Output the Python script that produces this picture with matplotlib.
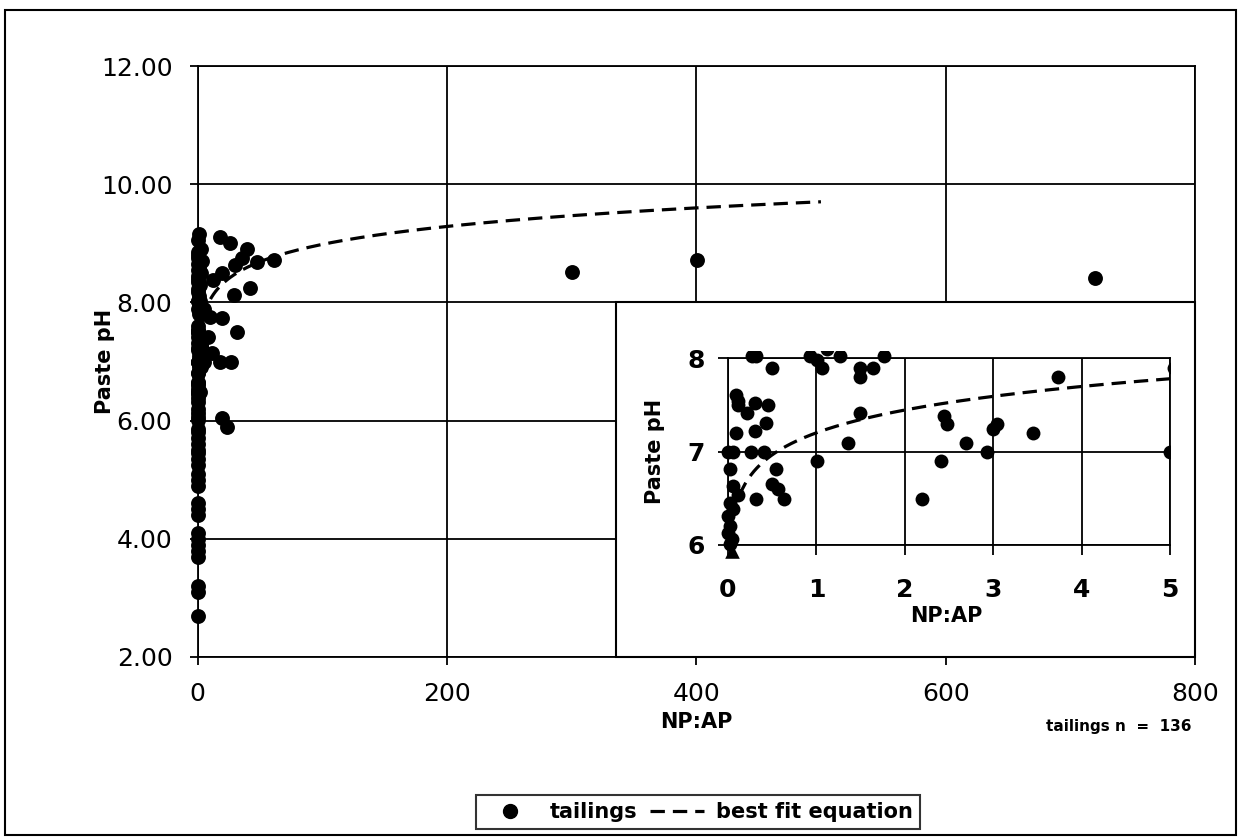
import numpy as np
import matplotlib
matplotlib.use("Agg")
import matplotlib.pyplot as plt
from matplotlib.patches import Rectangle
from matplotlib.lines import Line2D

plt.rcParams['font.family'] = ['DejaVu Sans']

# ---------------- data ----------------
# samples with NP:AP <= 5 (visible in the inset, and as the column at 0 in the main plot)
near_x = [0.27, 0.32, 0.50, 0.93, 1.01, 1.06, 1.27, 1.49, 1.49, 1.64, 1.77, 3.73, 5.04,
          0.09, 0.11, 0.11, 0.22, 0.30, 0.45, 0.43, 0.09, 0.30, 1.49, 1.36, 2.44, 2.48,
          3.00, 3.04, 3.45, 2.69, 0.00, 0.06, 0.26, 0.41, 2.93, 5.00, 1.01, 2.41, 0.02,
          0.54, 0.50, 0.56, 0.63, 0.32, 2.20, 0.06, 0.11, 0.02, 0.06, 0.00, 0.02, 0.00,
          0.04, 0.02,
          # pH above 8
          1.12, 0.3, 0.1, 2.0, 0.5, 0.05, 3.0, 0.8, 1.5, 0.2, 4.0, 0.6, 0.15, 2.5, 0.4,
          1.0, 0.7, 0.25,
          # pH below 6
          0.02, 0.05, 0.1, 0.03, 0.2, 0.01, 0.08, 0.04, 0.15, 0.02, 0.06, 0.03, 0.1,
          0.02, 0.05, 0.01, 0.04, 0.08, 0.02, 0.03, 0.05, 0.01]
near_ph = [8.02, 8.02, 7.89, 8.02, 7.98, 7.89, 8.02, 7.89, 7.80, 7.89, 8.02, 7.80, 7.89,
           7.60, 7.54, 7.50, 7.41, 7.52, 7.50, 7.31, 7.20, 7.22, 7.41, 7.09, 7.38, 7.29,
           7.24, 7.29, 7.20, 7.09, 7.00, 7.00, 7.00, 7.00, 7.00, 7.00, 6.90, 6.90, 6.81,
           6.81, 6.65, 6.60, 6.49, 6.49, 6.49, 6.63, 6.53, 6.45, 6.38, 6.31, 6.20, 6.13,
           6.06, 6.01,
           8.10, 8.18, 8.22, 8.30, 8.35, 8.45, 8.50, 8.55, 8.60, 8.65, 8.70, 8.75, 8.85,
           8.90, 9.05, 9.15, 8.40, 8.80,
           5.85, 5.80, 5.70, 5.60, 5.50, 5.45, 5.35, 5.25, 5.10, 4.90, 4.60, 4.50, 4.40,
           4.10, 4.00, 3.90, 3.80, 3.70, 3.20, 3.10, 2.70, 5.00]

# samples with NP:AP > 5
far_x = [18, 26, 40, 36, 48, 61, 30, 20, 42, 29, 19.5, 32, 18, 27, 19.5, 23.5,
         10, 8.6, 11.6, 12.5, 300, 401, 720]
far_ph = [9.10, 9.00, 8.90, 8.75, 8.68, 8.72, 8.63, 8.50, 8.24, 8.12, 7.74, 7.50,
          7.00, 7.00, 6.04, 5.89, 7.75, 7.41, 7.14, 8.38, 8.51, 8.72, 8.41]

# odd triangle marker at the inset origin
tri_x = [0.04]
tri_ph = [5.94]

# best fit equation: pH = c * (NP:AP) ** k
fit_c = 7.2
fit_k = 0.048

main_xticks = [0, 200, 400, 600, 800]
main_yticks = [2, 4, 6, 8, 10, 12]
inset_xticks = [0, 1, 2, 3, 4, 5]
inset_yticks = [6, 7, 8]

# ---------------- figure ----------------
W, H = 1241, 840
fig = plt.figure(figsize=(W / 100, H / 100), dpi=100)

def fx(px):
    return px / W

def fy(py):
    return 1 - py / H

# outer frame
fig.patches.append(Rectangle((fx(5), fy(835)), fx(1236) - fx(5), fy(10) - fy(835),
                             transform=fig.transFigure, fill=False, edgecolor='black',
                             linewidth=1.5))

L, R, T, B = 197.5, 1195, 66, 657
ax = fig.add_axes([fx(L), fy(B), fx(R) - fx(L), fy(T) - fy(B)])
ax.set_xlim(0, 800)
ax.set_ylim(2, 12)
ax.set_xticks(main_xticks)
ax.set_yticks(main_yticks)
ax.set_yticklabels(['%.2f' % v for v in main_yticks])
ax.grid(True, color='black', linewidth=1.3)
ax.set_axisbelow(True)
for s in ax.spines.values():
    s.set_linewidth(1.3)
ax.tick_params(axis='both', direction='out', length=6, width=1.3, labelsize=18)
ax.tick_params(axis='x', pad=12)
ax.tick_params(axis='y', pad=12)

all_x = near_x + far_x
all_ph = near_ph + far_ph
fit_x_main = np.linspace(0.15, 500, 600)
ax.plot(fit_x_main, fit_c * fit_x_main ** fit_k, color='black', linewidth=2.3,
        dashes=(4.5, 2.5), zorder=2)
ax.scatter(all_x, all_ph, s=115, color='black', zorder=3, clip_on=False, linewidths=0)

# white box behind the inset
ax.add_patch(Rectangle((335.6, 2), 800 - 335.6, 6, facecolor='white', edgecolor='black',
                       linewidth=1.5, zorder=5, clip_on=False))

fig.text(fx(105), fy(361), 'Paste pH', rotation=90, ha='center', va='center',
         fontsize=15, fontweight='bold')
fig.text(fx(696), fy(722), 'NP:AP', ha='center', va='center', fontsize=15,
         fontweight='bold')
fig.text(fx(1192), fy(727), 'tailings n  =  136', ha='right', va='center',
         fontsize=11, fontweight='bold')

# ---------------- inset ----------------
iL, iR, iT, iB = 728, 1170, 358, 545
axi = fig.add_axes([fx(iL), fy(iB), fx(iR) - fx(iL), fy(iT) - fy(iB)], zorder=10)
axi.patch.set_alpha(0)
axi.set_xlim(0, 5)
axi.set_ylim(6, 8)
axi.set_xticks(inset_xticks)
axi.set_yticks(inset_yticks)
axi.grid(True, color='black', linewidth=1.3)
axi.set_axisbelow(True)
for s in axi.spines.values():
    s.set_linewidth(1.3)
axi.tick_params(axis='both', direction='out', length=7, width=1.3, labelsize=18)
for lab in axi.get_xticklabels() + axi.get_yticklabels():
    lab.set_fontweight('bold')
axi.tick_params(axis='x', pad=17)
axi.tick_params(axis='y', pad=10)

fit_x_in = np.linspace(0.13, 5, 300)
axi.plot(fit_x_in, fit_c * fit_x_in ** fit_k, color='black', linewidth=2.3,
         dashes=(4.5, 2.5), zorder=2)
sc = axi.scatter(near_x, near_ph, s=100, color='black', zorder=3, linewidths=0)
clip = Rectangle((-0.02, -0.035), 1.02, 1.07, transform=axi.transAxes)
sc.set_clip_path(clip)
axi.scatter(tri_x, tri_ph, s=110, marker='^', color='black', zorder=3, clip_on=False,
            linewidths=0)

fig.text(fx(655), fy(451), 'Paste pH', rotation=90, ha='center', va='center',
         fontsize=15, fontweight='bold')
fig.text(fx(946), fy(616), 'NP:AP', ha='center', va='center', fontsize=15,
         fontweight='bold')

# ---------------- legend ----------------
handles = [Line2D([], [], marker='o', linestyle='none', color='black', markersize=10),
           Line2D([], [], color='black', linewidth=2.3, dashes=(4.5, 2.5))]
leg = fig.legend(handles, ['tailings', 'best fit equation'], loc='center',
                 bbox_to_anchor=(fx(698), fy(812)), ncol=2, frameon=True,
                 fancybox=False, edgecolor='black', handlelength=2.6,
                 columnspacing=0.6, handletextpad=0.6, borderpad=0.35,
                 prop={'size': 15, 'weight': 'bold'})
leg.get_frame().set_linewidth(1.5)

fig.savefig('out.png', dpi=100)
